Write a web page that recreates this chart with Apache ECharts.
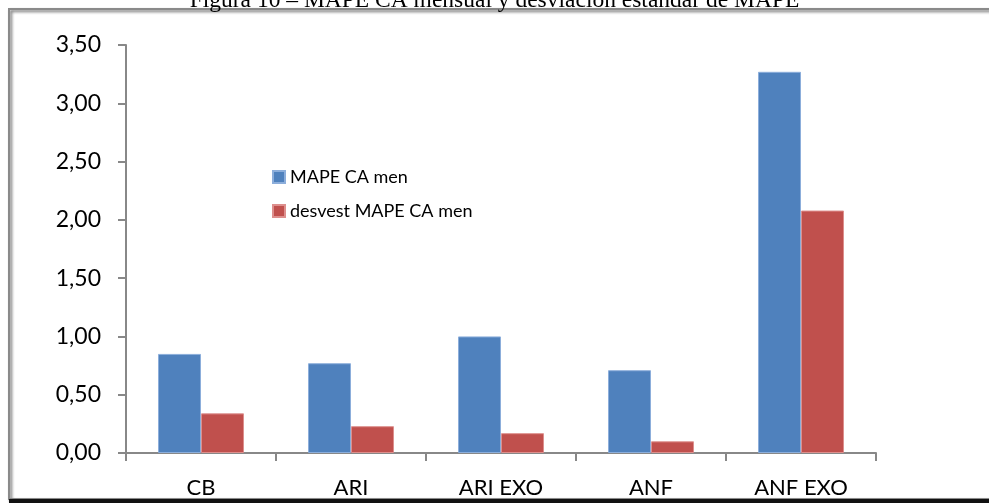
<!DOCTYPE html>
<html><head><meta charset="utf-8">
<script src="https://cdn.jsdelivr.net/npm/echarts@6/dist/echarts.min.js"></script>
<style>html,body{margin:0;padding:0;background:#fff}#c{width:989px;height:503px}</style>
</head><body><div id="c"></div>
<script>
const categories = ['CB', 'ARI', 'ARI EXO', 'ANF', 'ANF EXO'];
const mapeValues = [0.85, 0.77, 1.00, 0.71, 3.27];
const desvestValues = [0.34, 0.23, 0.17, 0.10, 2.08];
const seriesNames = ['MAPE CA men', 'desvest MAPE CA men'];
const titleText = 'Figura 10 – MAPE CA mensual y desviación estándar de MAPE';

const chart = echarts.init(document.getElementById('c'), null, {renderer: 'canvas'});
const font = 'Lato, "Open Sans", sans-serif';
chart.setOption({
  animation: false,
  backgroundColor: '#fff',
  grid: {left: 126, right: 113, top: 45, bottom: 50, containLabel: false},
  legend: {
    orient: 'vertical', left: 267, top: 163, itemWidth: 12, itemHeight: 12, itemGap: 16,
    icon: 'rect',
    textStyle: {fontFamily: font, fontSize: 18, color: '#000'},
    data: seriesNames
  },
  xAxis: {
    type: 'category', data: categories,
    axisLine: {lineStyle: {color: '#888', width: 2}},
    axisTick: {show: true, length: 8, lineStyle: {color: '#888', width: 2}},
    axisLabel: {fontFamily: font, fontSize: 22, color: '#000', margin: 24}
  },
  yAxis: {
    type: 'value', min: 0, max: 3.5, interval: 0.5,
    splitLine: {show: false},
    axisLine: {show: true, lineStyle: {color: '#888', width: 2}},
    axisTick: {show: true, length: 8, lineStyle: {color: '#888', width: 2}},
    axisLabel: {fontFamily: font, fontSize: 23, color: '#000', margin: 25,
      formatter: v => v.toFixed(2).replace('.', ',')}
  },
  series: [
    {name: seriesNames[0], type: 'bar', data: mapeValues, barWidth: 43, barGap: '0%',
     itemStyle: {color: '#4F81BD', borderColor: '#8CAEDB', borderWidth: 1}},
    {name: seriesNames[1], type: 'bar', data: desvestValues, barWidth: 43, barGap: '0%',
     itemStyle: {color: '#C0504D', borderColor: '#DD8F8D', borderWidth: 1}}
  ],
  graphic: [
    {type: 'rect', z: -1, shape: {x: 9, y: 9, width: 1000, height: 490},
     style: {fill: '#fff', stroke: '#8a8a8a', lineWidth: 2,
       shadowBlur: 3, shadowOffsetX: 2, shadowOffsetY: 2, shadowColor: 'rgba(0,0,0,0.6)'}},
    {type: 'rect', shape: {x: 9, y: 499, width: 1000, height: 4}, style: {fill: '#111'}},
    {type: 'text', left: 'center', top: -11,
     style: {text: titleText, font: '23.5px "Liberation Serif", "Times New Roman", serif', fill: '#000'}}
  ]
});
</script></body></html>
